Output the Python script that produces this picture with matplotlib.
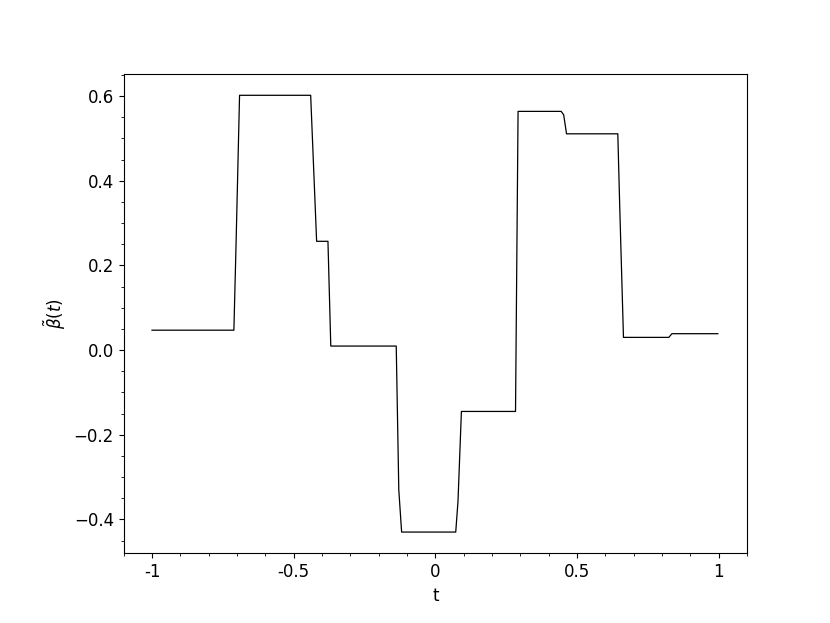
import numpy as np
import matplotlib
matplotlib.use("Agg")
import matplotlib.pyplot as plt
from matplotlib.ticker import MultipleLocator, FuncFormatter

# points
t = [-1.0, -0.711, -0.703, -0.691, -0.440, -0.419, -0.379, -0.369,
     -0.138, -0.129, -0.119, 0.072, 0.080, 0.092, 0.283, 0.292,
     0.444, 0.453, 0.463, 0.644, 0.651, 0.664, 0.824, 0.835, 0.997]
beta = [0.047, 0.047, 0.26, 0.602, 0.602, 0.257, 0.257, 0.0095,
        0.0095, -0.330, -0.430, -0.430, -0.357, -0.145, -0.145, 0.564,
        0.564, 0.556, 0.511, 0.511, 0.334, 0.030, 0.030, 0.0387, 0.0387]

xticks = [-1, -0.5, 0, 0.5, 1]
xtick_labels = ["-1", "-0.5", "0", "0.5", "1"]


def fmt_x(v, pos):
    for tk, lab in zip(xticks, xtick_labels):
        if abs(v - tk) < 1e-9:
            return lab
    return ""


fig = plt.figure(figsize=(8.3, 6.23), dpi=100)
ax = fig.add_axes([0.149, 0.112, 0.751, 0.769])
ax.plot(t, beta, color="black", linewidth=0.9)

ax.set_xlim(-1.1, 1.1)
ax.set_ylim(-0.48, 0.652)
ax.xaxis.set_major_locator(MultipleLocator(0.5))
ax.xaxis.set_major_formatter(FuncFormatter(fmt_x))
ax.xaxis.set_minor_locator(MultipleLocator(0.1))
ax.yaxis.set_major_locator(MultipleLocator(0.2))
ax.yaxis.set_minor_locator(MultipleLocator(0.05))
ax.tick_params(labelsize=12)

ax.set_xlabel("t", fontsize=12)
ax.set_ylabel(r"$\tilde{\beta}(t)$", fontsize=12)

fig.savefig("out.png", dpi=100)
